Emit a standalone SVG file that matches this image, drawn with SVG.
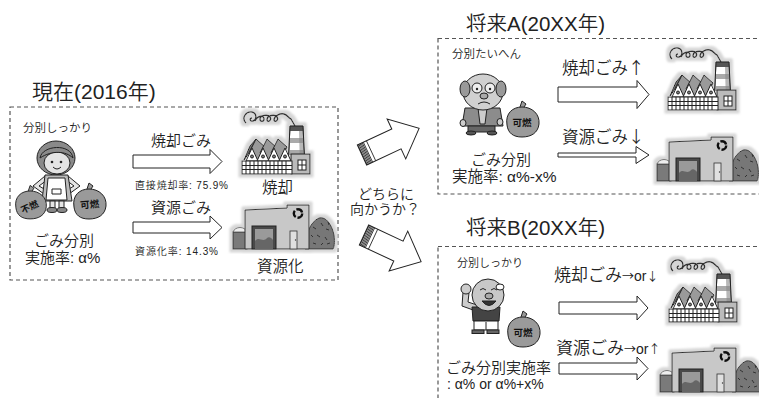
<svg xmlns="http://www.w3.org/2000/svg" xmlns:xlink="http://www.w3.org/1999/xlink" width="759" height="398" viewBox="0 0 759 398">
  <style>
    .box { fill: none; stroke: #555; stroke-width: 1.2; stroke-dasharray: 4 3; }
    .t { font-family: "Liberation Sans", "Noto Sans CJK JP", sans-serif; fill: #222; font-weight: 350; }
    .cjk { font-family: "Noto Sans CJK JP", sans-serif; }
    .bag { font-family: "Noto Sans CJK JP", sans-serif; fill: #111; font-weight: bold; text-anchor: middle; }
    .blk { fill: #fff; stroke: #222; stroke-width: 1; stroke-linejoin: miter; }
    .ol { stroke: #222; stroke-width: 1; }
    .ln { fill: none; stroke: #222; stroke-width: 1; }
  </style>
  <defs>
    <filter id="halo" x="-10%" y="-10%" width="120%" height="120%">
      <feMorphology in="SourceAlpha" operator="dilate" radius="2.5" result="d"/>
      <feGaussianBlur in="d" stdDeviation="1.2" result="b"/>
      <feFlood flood-color="#d6d6d6"/>
      <feComposite in2="b" operator="in" result="h"/>
      <feMerge><feMergeNode in="h"/><feMergeNode in="SourceGraphic"/></feMerge>
    </filter>
    <!-- incineration plant -->
    <g id="factory" filter="url(#halo)">
      <path d="M4,13 C-1,8 4,1 10,2 C15,3 15,10 11,11 C8,12 7,8 10,8 M13,11 C16,5 22,5 22,9 C22,12 18,12 18,9 C18,5 26,4 28,7 C30,10 26,13 25,10 C25,5 33,4 35,7 C37,10 33,13 32,10 C32,6 38,3 42,4 C46,5 46,8 49,9 L53,16" fill="none" stroke="#333" stroke-width="1.4"/>
      <polygon points="48,16 61,16 63,58 46,58" fill="#fff" class="ol"/>
      <polygon points="48,16 61,16 61.3,21 47.8,21" fill="#555"/>
      <polygon points="47.5,28 61.6,28 61.8,33 47.3,33" fill="#aaa"/>
      <polygon points="47.1,40 62.2,40 62.4,45 46.9,45" fill="#aaa"/>
      <polygon points="57,21 61.3,21 63,58 58,58" fill="#888" opacity="0.6"/>
      <polygon points="48,16 61,16 63,58 46,58" fill="none" class="ol"/>
      <!-- three sawtooth bays: sloping roof plane behind a white gable -->
      <polygon points="2,50 8,36 14,29 7,43" fill="#7a7a7a" class="ol"/>
      <polygon points="7,43 14,29 23,37 16,51" fill="#9a9a9a" class="ol"/>
      <polygon points="4,51 10,38 16,51" fill="#fff" class="ol"/>
      <circle cx="10" cy="46.5" r="1.5" fill="#777" class="ol"/>
      <polygon points="18,43 25,29 34,37 27,51" fill="#9a9a9a" class="ol"/>
      <polygon points="15,51 21,38 27,51" fill="#fff" class="ol"/>
      <circle cx="21" cy="46.5" r="1.5" fill="#777" class="ol"/>
      <polygon points="29,43 36,29 45,37 38,51" fill="#9a9a9a" class="ol"/>
      <polygon points="26,51 32,38 38,51" fill="#fff" class="ol"/>
      <circle cx="32" cy="46.5" r="1.5" fill="#777" class="ol"/>
      <polygon points="37,51 43,38 49,51" fill="#fff" class="ol"/>
      <circle cx="43" cy="46.5" r="1.5" fill="#777" class="ol"/>
      <rect x="49" y="44" width="19" height="20" fill="#bbb" class="ol"/>
      <rect x="56" y="50" width="8" height="10" fill="#fff" class="ol"/>
      <path d="M60,50 V60 M56,55 H64" class="ln" stroke-width="0.7"/>
      <rect x="0" y="51" width="50" height="13" fill="#fff" class="ol"/>
      <path d="M0,55.5 H50 M0,59.5 H50 M4,51 V64 M8,51 V64 M12,51 V64 M16,51 V64 M20,51 V64 M24,51 V64 M28,51 V64 M32,51 V64 M36,51 V64 M40,51 V64 M44,51 V64" class="ln" stroke-width="0.7"/>
    </g>
    <!-- recycling plant -->
    <g id="plant" filter="url(#halo)">
      <path d="M72,44 C72,30 77,17 86,13 C93,11 99,20 101,30 C102,38 101,43 100,44 Z" fill="#777" stroke="#333" stroke-width="1"/>
      <path d="M80,22 l3,2 M88,18 l2,3 M93,24 l3,1 M84,30 l3,2 M92,32 l2,3 M97,38 l-3,1 M80,38 l3,1 M88,40 l2,-2 M78,30 l2,2 M95,17 l1,3" stroke="#333" stroke-width="1"/>
      <rect x="0" y="27" width="14" height="17" fill="#7a7a7a" stroke="#333" stroke-width="1"/>
      <path d="M0,27 C2,21 12,21 14,27 Z" fill="#eee" stroke="#555" stroke-width="0.8"/>
      <path d="M12,5 L54,3 L54,0 L76,0 L76,44 L12,44 Z" fill="#c8c8c8" stroke="#333" stroke-width="1"/>
      <circle cx="65" cy="8.5" r="4.2" fill="none" stroke="#111" stroke-width="2.4" stroke-dasharray="7 1.8"/>
      <rect x="19" y="21" width="24" height="23" fill="#4a4a4a" stroke="#222" stroke-width="1"/>
      <rect x="22" y="24" width="18" height="20" fill="#9a9a9a"/>
      <path d="M22,36 C26,31 30,38 34,33 C36,31 39,33 40,35 L40,44 L22,44 Z" fill="#666"/>
      <rect x="57" y="26" width="7" height="18" fill="#e0e0e0" stroke="#333" stroke-width="0.8"/>
      <circle cx="62.5" cy="35" r="0.7" fill="#333"/>
    </g>
    <!-- rubbish sack -->
    <path id="sack" d="M2,18 C0,6 8,0 17,0 C27,0 35,7 34,17 C33,26 26,30 17,30 C8,30 3,26 2,18 Z M15,0 L17,-6 L21,-3 L19,0" fill="#9a9a9a" stroke="#222" stroke-width="1"/>
  </defs>

  <!-- present situation -->
  <g id="present">
    <rect class="box" x="10" y="107" width="328" height="173"/>
    <text class="t" x="32" y="99" font-size="21">現在(2016年)</text>
    <text class="t" x="23" y="132" font-size="11.5">分別しっかり</text>
    <g id="present-resident">
      <ellipse cx="56" cy="158" rx="19" ry="17" fill="#8a8a8a" class="ol"/>
      <ellipse cx="57" cy="163" rx="13" ry="11" fill="#e4e4e4" class="ol"/>
      <path d="M40,158 C42,145 71,143 73,158 C66,151 52,150 40,158 Z" fill="#8a8a8a" class="ol"/>
      <circle cx="52" cy="162" r="1.3" fill="#222"/>
      <circle cx="61" cy="162" r="1.3" fill="#222"/>
      <path d="M53,167 Q57,171 61,167" class="ln"/>
      <path d="M45,176 L33,186 L44,194 L46,190 L39,186 L47,180 Z" fill="#e4e4e4" class="ol"/>
      <path d="M68,176 L80,186 L69,194 L67,190 L74,186 L66,180 Z" fill="#e4e4e4" class="ol"/>
      <path d="M45,175 L68,175 L72,201 L42,201 Z" fill="#bbb" class="ol"/>
      <path d="M48,178 L65,178 L67,200 L46,200 Z" fill="#fff" class="ol"/>
      <path d="M52,189 H61 V194 H52 Z" class="ln" stroke-width="0.8"/>
      <rect x="50" y="201" width="5" height="8" fill="#e4e4e4" class="ol"/>
      <rect x="59" y="201" width="5" height="8" fill="#e4e4e4" class="ol"/>
      <ellipse cx="52" cy="210" rx="5" ry="2.5" fill="#888" class="ol"/>
      <ellipse cx="62" cy="210" rx="5" ry="2.5" fill="#888" class="ol"/>
      <use href="#sack" transform="translate(14,191) scale(0.95,0.93)"/>
      <text class="bag" font-size="9" transform="translate(31,210) rotate(-25)">不燃</text>
      <use href="#sack" transform="translate(72,189)"/>
      <text class="bag" font-size="9.5" transform="translate(90,208) rotate(-5)">可燃</text>
    </g>
    <use href="#factory" x="242" y="110"/>
    <use href="#plant" x="233" y="205"/>
    <text class="t" x="151" y="146" font-size="15">焼却ごみ</text>
    <text class="t" x="135" y="189" font-size="10" textLength="93" lengthAdjust="spacing">直接焼却率: 75.9%</text>
    <text class="t" x="262" y="193" font-size="15.5">焼却</text>
    <text class="t" x="151" y="213" font-size="15">資源ごみ</text>
    <text class="t" x="135" y="255" font-size="10" textLength="83" lengthAdjust="spacing">資源化率: 14.3%</text>
    <text class="t" font-size="15"><tspan x="34" y="246">ごみ分別</tspan><tspan x="25" y="263">実施率: α%</tspan></text>
    <text class="t" x="257" y="272" font-size="15.5">資源化</text>
  </g>

  <!-- future scenario A -->
  <g id="futureA">
    <rect class="box" x="438" y="38.5" width="340" height="155.5"/>
    <text class="t" x="466" y="31" font-size="20.5">将来A(20XX年)</text>
    <text class="t" x="452" y="58" font-size="11.5">分別たいへん</text>
    <g id="futureA-resident">
      <path d="M465,108 L500,108 L503,126 L462,126 Z" fill="#8c8c8c" class="ol"/>
      <path d="M478,108 L487,108 L485,124 L480,124 Z" fill="#ccc" class="ol"/>
      <rect x="468" y="126" width="27" height="6" fill="#666" class="ol"/>
      <ellipse cx="471" cy="133" rx="5" ry="2" fill="#555" class="ol"/>
      <ellipse cx="492" cy="133" rx="5" ry="2" fill="#555" class="ol"/>
      <ellipse cx="463" cy="123" rx="3" ry="3.5" fill="#ccc" class="ol"/>
      <ellipse cx="500" cy="122" rx="3" ry="3.5" fill="#ccc" class="ol"/>
      <ellipse cx="483" cy="92" rx="20" ry="18" fill="#d0d0d0" class="ol"/>
      <ellipse cx="465" cy="89" rx="5" ry="8" fill="#999" class="ol"/>
      <ellipse cx="501" cy="89" rx="5" ry="8" fill="#999" class="ol"/>
      <circle cx="477" cy="88" r="5" fill="#eee" class="ol"/>
      <circle cx="490" cy="88" r="5" fill="#eee" class="ol"/>
      <circle cx="477" cy="89" r="1.2" fill="#222"/>
      <circle cx="490" cy="89" r="1.2" fill="#222"/>
      <ellipse cx="484" cy="96" rx="4" ry="3" fill="#aaa" class="ol"/>
      <path d="M478,104 Q484,100 490,104" class="ln"/>
      <use href="#sack" transform="translate(505,107)"/>
      <text class="bag" font-size="9.5" x="522" y="126">可燃</text>
    </g>
    <use href="#factory" x="668" y="46"/>
    <use href="#plant" x="657" y="137"/>
    <text class="t" x="562" y="74" font-size="16.5">焼却ごみ<tspan class="cjk">↑</tspan></text>
    <text class="t" x="562" y="143" font-size="16.5">資源ごみ<tspan class="cjk">↓</tspan></text>
    <text class="t" font-size="15"><tspan x="471" y="165">ごみ分別</tspan><tspan x="452" y="182" font-size="15.5">実施率: α%-x%</tspan></text>
  </g>

  <!-- future scenario B -->
  <g id="futureB">
    <rect class="box" x="438" y="246.5" width="340" height="170"/>
    <text class="t" x="466" y="235" font-size="20.5">将来B(20XX年)</text>
    <text class="t" x="457" y="267" font-size="11">分別しっかり</text>
    <g id="futureB-resident">
      <path d="M476,311 L462,306 L463,292 L469,293 L468,302 L477,305 Z" fill="#ccc" class="ol"/>
      <circle cx="466" cy="289" r="5" fill="#ccc" class="ol"/>
      <path d="M472,307 L500,307 L499,321 L473,321 Z" fill="#444" class="ol"/>
      <rect x="474" y="321" width="24" height="9" fill="#fff" class="ol"/>
      <path d="M486,322 V330" class="ln"/>
      <rect x="472" y="330" width="12" height="3.5" fill="#666" class="ol"/>
      <rect x="487" y="330" width="12" height="3.5" fill="#666" class="ol"/>
      <circle cx="488" cy="295" r="16" fill="#c8c8c8" class="ol"/>
      <ellipse cx="500" cy="287" rx="4" ry="3" fill="#fff" class="ol"/>
      <path d="M480,290 Q483,287 486,290 M491,290 Q494,287 497,290" class="ln"/>
      <ellipse cx="489" cy="296" rx="4" ry="3" fill="#aaa" class="ol"/>
      <path d="M482,301 Q489,310 496,301 Z" fill="#333" class="ol"/>
      <use href="#sack" transform="translate(506,317)"/>
      <text class="bag" font-size="9.5" x="523" y="336">可燃</text>
    </g>
    <use href="#factory" x="669" y="258"/>
    <use href="#plant" x="660" y="348"/>
    <text class="t" x="554" y="281" font-size="17">焼却ごみ<tspan class="cjk" font-size="12">→</tspan><tspan font-size="14">or</tspan><tspan class="cjk" font-size="12">↓</tspan></text>
    <text class="t" x="556" y="354" font-size="17">資源ごみ<tspan class="cjk" font-size="12">→</tspan><tspan font-size="14">or</tspan><tspan class="cjk" font-size="12">↑</tspan></text>
    <text class="t" font-size="15"><tspan x="446" y="372.5">ごみ分別実施率</tspan><tspan x="447" y="389" font-size="14">: α% or α%+x%</tspan></text>
  </g>

  <!-- question between the scenarios -->
  <g id="question">
    <text class="t" font-size="14" text-anchor="middle"><tspan x="386" y="198.5">どちらに</tspan><tspan x="385" y="214">向かうか？</tspan></text>
  </g>

  <!-- connectors -->
  <g id="connectors">
    <path class="blk" d="M133,155 H210 V149.5 L222,161.5 L210,173.5 V168 H133 Z"/>
    <path class="blk" d="M133,222 H210 V216 L222,227.5 L210,239 V233 H133 Z"/>
    <path class="blk" d="M558,87 H637 V80.5 L649,94.5 L637,108.5 V102 H558 Z"/>
    <path class="blk" d="M558,153 H636 V146.5 L649,155 L636,163.5 V157 H558 Z"/>
    <path class="blk" d="M559,302 H637 V296 L648,308 L637,320 V314 H559 Z"/>
    <path class="blk" d="M559,363 H637 V357 L648,368.5 L637,380 V374 H559 Z"/>
    <g transform="translate(362,155) rotate(-25)">
      <path class="blk" d="M0,-11 H38 V-22 L63,0 L38,22 V11 H0 Z"/>
      <path d="M0.6,-11 V11 M1.8,-11 V11 M3,-11 V11 M4.2,-11 V11 M5.4,-11 V11 M6.6,-11 V11 M10,-11 V11" stroke="#222" stroke-width="0.8"/>
    </g>
    <g transform="translate(364,235) rotate(25)">
      <path class="blk" d="M0,-11 H38 V-22 L63,0 L38,22 V11 H0 Z"/>
      <path d="M0.6,-11 V11 M1.8,-11 V11 M3,-11 V11 M4.2,-11 V11 M5.4,-11 V11 M6.6,-11 V11 M10,-11 V11" stroke="#222" stroke-width="0.8"/>
    </g>
  </g>
</svg>
